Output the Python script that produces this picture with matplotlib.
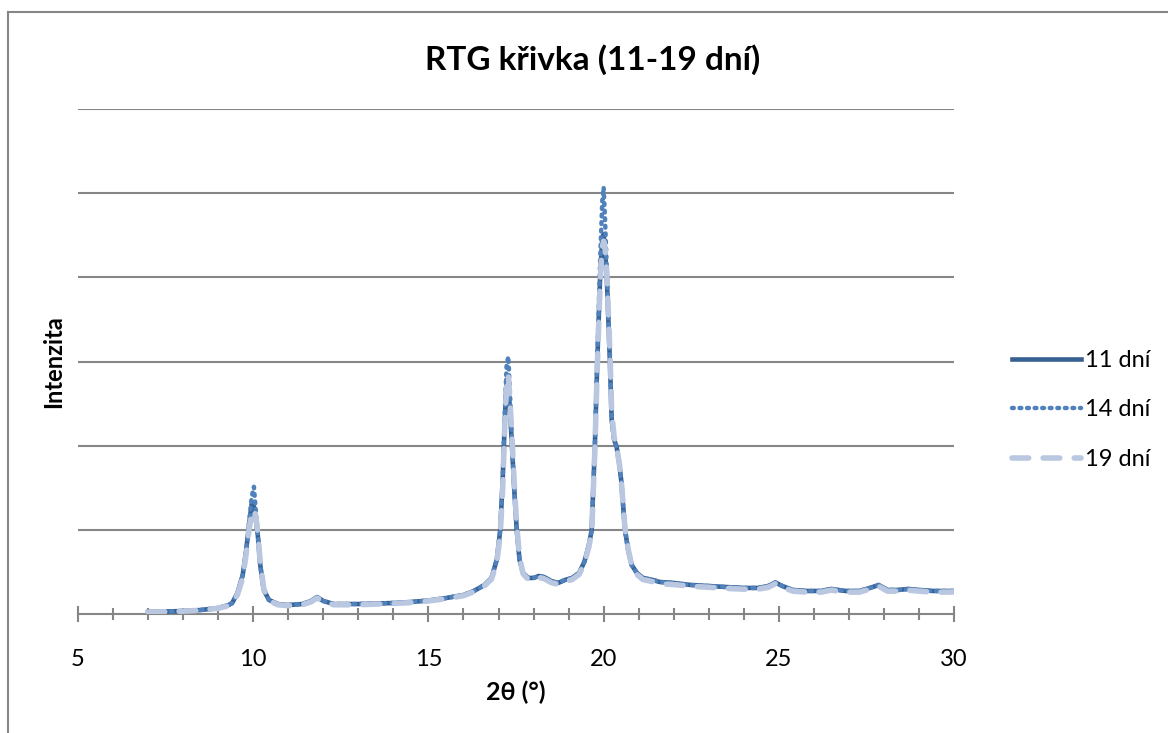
import numpy as np
import matplotlib.pyplot as plt
from matplotlib.lines import Line2D

# 2theta positions (deg) and intensities (one gridline = 1000)
two_theta = [7.0, 7.5, 8.0, 8.5, 9.0, 9.3, 9.4, 9.55, 9.7, 9.8, 9.88, 9.96, 10.02, 10.08,
             10.13, 10.2, 10.3, 10.45, 10.7, 11.0, 11.4, 11.65, 11.82, 12.0, 12.3, 13.0,
             13.5, 14.0, 14.5, 15.0, 15.5, 16.0, 16.3, 16.6, 16.8, 16.95, 17.05, 17.12,
             17.18, 17.23, 17.28, 17.33, 17.39, 17.45, 17.52, 17.6, 17.7, 17.85, 18.0,
             18.15, 18.3, 18.5, 18.7, 18.9, 19.1, 19.3, 19.45, 19.58, 19.66, 19.75, 19.82,
             19.9, 19.96, 20.0, 20.04, 20.09, 20.18, 20.23, 20.3, 20.37, 20.45, 20.5, 20.61,
             20.7, 20.8, 20.95, 21.12, 21.4, 21.6, 22.0, 22.5, 23.0, 23.5, 24.0, 24.4, 24.7,
             24.9, 25.1, 25.4, 25.8, 26.2, 26.5, 26.9, 27.3, 27.6, 27.85, 28.1, 28.4, 28.7,
             29.0, 29.4, 29.7, 30.0]

int_11 = [24, 30, 36, 48, 71, 107, 131, 250, 464, 762, 1060, 1321, 1280, 1100,
          940, 583, 286, 167, 119, 107, 119, 155, 202, 155, 119, 119,
          125, 131, 143, 161, 190, 226, 274, 345, 429, 643, 1000, 1595,
          2310, 2786, 2700, 2400, 1950, 1476, 1000, 643, 488, 429, 429,
          452, 440, 393, 369, 405, 429, 488, 619, 821, 1000, 2000, 3000,
          4000, 4450, 4512, 4333, 4000, 3000, 2310, 2071, 1988, 1774, 1595, 1000,
          762, 583, 488, 429, 405, 381, 369, 345, 333, 321, 310, 310, 333,
          375, 333, 286, 274, 274, 298, 274, 274, 310, 345, 286, 286, 298,
          286, 274, 274, 274]

int_14 = [24, 30, 36, 48, 71, 107, 131, 250, 464, 762, 1080, 1400, 1512, 1200,
          960, 583, 286, 167, 119, 107, 119, 155, 202, 155, 119, 119,
          125, 131, 143, 161, 190, 226, 274, 345, 429, 643, 1000, 1620,
          2400, 2950, 3060, 2600, 2000, 1476, 1000, 643, 488, 429, 429,
          452, 440, 393, 369, 405, 429, 488, 619, 821, 1000, 2000, 3050,
          4200, 4900, 5071, 4700, 4100, 3050, 2310, 2071, 1988, 1774, 1595, 1000,
          762, 583, 488, 429, 405, 381, 369, 345, 333, 321, 310, 310, 333,
          375, 333, 286, 274, 274, 298, 274, 274, 310, 345, 286, 286, 298,
          286, 274, 274, 274]

int_19 = [22, 28, 34, 45, 68, 100, 125, 230, 430, 720, 1000, 1200, 1240, 1150,
          960, 620, 300, 160, 110, 100, 110, 145, 190, 150, 110, 110,
          118, 125, 136, 155, 183, 218, 265, 335, 415, 610, 950, 1500,
          2250, 2700, 2845, 2500, 2050, 1550, 1050, 680, 480, 410, 410,
          435, 420, 375, 350, 385, 410, 470, 600, 800, 980, 1950, 2950,
          3950, 4350, 4430, 4350, 4050, 3100, 2400, 2100, 1990, 1780, 1600, 1020,
          770, 580, 470, 410, 385, 360, 350, 330, 318, 305, 295, 295, 318,
          360, 318, 272, 260, 260, 284, 260, 260, 296, 330, 272, 272, 284,
          272, 260, 260, 262]

labels = ["11 dní", "14 dní", "19 dní"]

plt.rcParams['font.family'] = ['Lato', 'DejaVu Sans']

fig = plt.figure(figsize=(11.68, 7.33), dpi=100)
ax = fig.add_axes([0.0668, 0.1623, 0.75, 0.689])

ax.plot(two_theta, int_11, color='#376092', lw=3.3, label=labels[0], zorder=3)
ax.plot(two_theta, int_14, color='#4F81BD', lw=3.2, linestyle=(0, (0.4, 1.3)),
        dash_capstyle='round', label=labels[1], zorder=4)
ax.plot(two_theta, int_19, color='#B9C7E0', lw=4, linestyle=(0, (3, 2.6)),
        dash_capstyle='round', label=labels[2], zorder=5)

ax.set_xlim(5, 30)
ax.set_ylim(0, 6000)
ax.set_xticks(np.arange(5, 31, 5))
ax.set_xticks(np.arange(5, 31, 1), minor=True)
ax.set_yticks(np.arange(1000, 6001, 1000))
ax.set_yticklabels([])
ax.tick_params(axis='y', length=0)
ax.tick_params(axis='x', which='major', direction='inout', length=11, width=1.5,
               color='#868686', labelsize=17, pad=20)
ax.tick_params(axis='x', which='minor', direction='inout', length=8.5, width=1.5,
               color='#868686')
ax.grid(axis='y', color='#868686', lw=1.5)
for s in ['left', 'right', 'top']:
    ax.spines[s].set_visible(False)
ax.spines['bottom'].set_color('#868686')
ax.spines['bottom'].set_linewidth(1.5)

ax.set_xlabel('2θ (°)', fontsize=18, fontweight='bold', labelpad=7)
ax.set_ylabel('Intenzita', fontsize=17, fontweight='bold', labelpad=6)
fig.text(0.507, 0.918, 'RTG křivka (11-19 dní)', ha='center', va='center',
         fontsize=24, fontweight='bold')

ax.legend(loc='center left', bbox_to_anchor=(1.042, 0.404), frameon=False, fontsize=17,
          handlelength=2.9, labelspacing=1.2, handletextpad=0.2)

# chart border (left and top edges visible)
fig.add_artist(Line2D([0.0065, 0.0065], [0, 0.984], color='#868686', lw=1.5))
fig.add_artist(Line2D([0.0065, 1], [0.984, 0.984], color='#868686', lw=1.5))

fig.savefig('out.png', dpi=100)
